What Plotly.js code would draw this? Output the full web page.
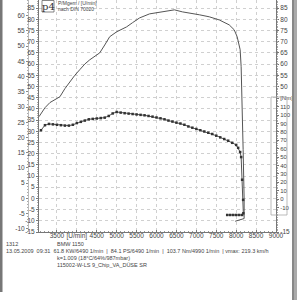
<!DOCTYPE html>
<html><head><meta charset="utf-8">
<script src="https://cdn.plot.ly/plotly-3.0.1.min.js"></script>
<style>html,body{margin:0;padding:0;background:#fff}#c{width:300px;height:300px}</style>
</head><body><div id="c"></div>
<script>
// Power curve (PS) vs engine speed (U/min)
var powerRpm = [3050, 3200, 3325, 3450, 3575, 3700, 3825, 3950, 4075, 4200, 4325, 4450, 4575, 4700, 4825, 5000, 5250, 5400, 5575, 5825, 6150, 6450, 6650, 6825, 7075, 7325, 7575, 7825, 7950, 8025, 8100, 8125, 8150, 8175, 8200, 8200, 7975];
var powerPs  = [36.5, 40.5, 42.8, 44.1, 45.4, 49.0, 52.1, 55.0, 57.5, 60.0, 61.9, 63.3, 65.0, 68.5, 72.2, 74.4, 76.6, 78.5, 80.6, 82.4, 83.3, 84.2, 83.3, 82.9, 82.0, 81.1, 79.7, 77.5, 75.3, 72.2, 66.4, 58.8, 44.1, 21.8, -0.4, -9.0, -10.2];
// Torque curve (Nm)
var torqueRpm = [3100,3200,3300,3400,3500,3600,3700,3800,3900,4000,4100,4200,4300,4400,4500,4600,4700,4800,4900,5000,5100,5200,5300,5400,5500,5600,5700,5800,5900,6000,6100,6200,6300,6400,6500,6600,6700,6800,6900,7000,7100,7200,7300,7400,7500,7600,7700,7800,7900,8000,8050,8100,8125,8150,8175,8180];
var torqueNm  = [82,88,89.5,89,88.5,88,87.5,87.5,88.5,90.5,92,93.5,95,95.5,96,96.5,97,99,102,103.7,103,102.3,101.8,101.3,100.8,100.3,99.8,99,98.2,97.2,96.2,95,93.5,92.3,91,90,88.5,86.5,85,83.5,82,80.5,79,77.5,75.5,73.5,71.5,69.5,67,64.5,61,56,50,23,-1,-17];
// Coast-down segment (Nm)
var coastRpm = [7775, 7850, 7925, 8000, 8075, 8150];
var coastNm  = [-19, -19, -19, -19, -19, -19];

var xTicks = [3500,4000,4500,5000,5500,6000,6500,7000,7500,8000,8500,9000];
var xTickText = ['3500','[U/min]','4500','5000','5500','6000','6500','7000','7500','8000','8500','9000'];
var psTicks = [-15,-10,-5,0,5,10,15,20,25,30,35,40,45,50,55,60,65,70,75,80,85];
var kwTicks = [-10,-5,0,5,10,15,20,25,30,35,40,45,50,55,60];
var psRightTicks = [-15,50,55,60,65,70,75,80,85];
var nmTicks = [-10,0,10,20,30,40,50,60,70,80,90,100,110,120];
var nmTickText = ['-10','0','10','20','30','40','50','60','70','80','90','100','110','[Nm]'];

var infoLines = [
  '1312',
  'BMW 1150',
  '13.05.2009  09:31  61.8 KW/6490 1/min  |  84.1 PS/6490 1/min  |  103.7 Nm/4990 1/min  | vmax: 219.3 km/h',
  'k=1.009 (18°C/64%/987mbar)',
  '115002-W-LS 9_Chip_VA_DÜSE SR'
];

var PS_RANGE = [-15, 88.6];
var KW_PER_PS = 1/1.36;
var NM_RANGE = [-39.3, 237.2];
var FONT = 'Liberation Sans, Arial, sans-serif';
var tc = '#444';

function labels(arr){return arr.map(function(v){return String(v);});}
// pixel -> paper helpers (plot area: x 28..276, y 0..232)
function px(x){return (x-28)/248;}
function py(y){return (232-y)/232;}

var powerKw = powerPs.map(function(v){return v*KW_PER_PS;});

var traces = [
  // same power curve expressed in kW / on right PS scale (invisible; makes those axes draw)
  {x: powerRpm, y: powerKw, type:'scatter', mode:'lines', yaxis:'y2', opacity:0, line:{width:1}, hoverinfo:'skip'},
  {x: powerRpm, y: powerPs, type:'scatter', mode:'lines', yaxis:'y3', opacity:0, line:{width:1}, hoverinfo:'skip'},
  {x: powerRpm, y: powerPs, type:'scatter', mode:'lines', yaxis:'y',
   line:{color:'#555', width:1}, hoverinfo:'skip'},
  {x: torqueRpm, y: torqueNm, type:'scatter', mode:'lines+markers', yaxis:'y4',
   line:{color:'#555', width:1}, marker:{symbol:'square', size:2.5, color:'#333'}, hoverinfo:'skip'},
  {x: coastRpm, y: coastNm, type:'scatter', mode:'lines+markers', yaxis:'y4',
   line:{color:'#555', width:1}, marker:{symbol:'square', size:2.5, color:'#333'}, hoverinfo:'skip'}
];

var gridCol = '#d0d0d0';
var layout = {
  width:300, height:300,
  margin:{l:28, r:24, t:0, b:68},
  paper_bgcolor:'#fff', plot_bgcolor:'#fff',
  showlegend:false,
  font:{family:FONT, size:6.5, color:tc},
  xaxis:{domain:[px(39),1], range:[3050,9000], tickmode:'array', tickvals:xTicks, ticktext:xTickText,
    showline:true, linecolor:'#777', linewidth:1, ticks:'inside', ticklen:2, tickcolor:'#777',
    ticklabelstandoff:-3,
    minor:{ticks:'inside', ticklen:1.5, dtick:100, tick0:3000, tickcolor:'#999', showgrid:false},
    showgrid:true, gridcolor:gridCol, griddash:'dot', gridwidth:1, zeroline:false,
    tickfont:{size:6.5, color:tc}},
  yaxis:{range:PS_RANGE, tickmode:'array', tickvals:psTicks, ticktext:labels(psTicks),
    showline:true, linecolor:'#777', linewidth:1,
    ticks:'outside', ticklen:2, tickcolor:'#777',
    minor:{ticks:'outside', ticklen:1, dtick:1, tick0:0, tickcolor:'#aaa', showgrid:false},
    showgrid:true, gridcolor:gridCol, griddash:'dot', gridwidth:1, zeroline:false,
    tickfont:{size:6.5, color:tc}},
  yaxis2:{overlaying:'y', anchor:'free', position:0, side:'left',
    range:[PS_RANGE[0]*KW_PER_PS, PS_RANGE[1]*KW_PER_PS], tickmode:'array', tickvals:kwTicks, ticktext:labels(kwTicks),
    showline:true, linecolor:'#bbb', linewidth:1, ticks:'outside', ticklen:2, tickcolor:'#888',
    minor:{ticks:'outside', ticklen:1, dtick:1, tick0:0, tickcolor:'#aaa', showgrid:false},
    showgrid:false, zeroline:false, tickfont:{size:6.5, color:tc}},
  yaxis3:{overlaying:'y', anchor:'x', side:'right', range:PS_RANGE, tickmode:'array', tickvals:psRightTicks, ticktext:labels(psRightTicks),
    showline:true, linecolor:'#777', linewidth:1, ticks:'outside', ticklen:2, tickcolor:'#777',
    showgrid:false, zeroline:false, tickfont:{size:6.5, color:tc}},
  yaxis4:{overlaying:'y', anchor:'x', side:'right', range:NM_RANGE, tickmode:'array', tickvals:nmTicks, ticktext:nmTickText,
    showline:false, ticks:'outside', ticklen:2, tickcolor:'#777',
    minor:{ticks:'outside', ticklen:1, dtick:2, tick0:0, tickcolor:'#aaa', showgrid:false},
    showgrid:false, zeroline:false, tickfont:{size:6, color:tc}},
  shapes:[
    {type:'rect', xref:'paper', yref:'paper', x0:px(0), x1:px(2.5), y0:py(0), y1:py(292), fillcolor:'#777', line:{width:0}},
    {type:'rect', xref:'paper', yref:'paper', x0:px(292), x1:px(297), y0:py(0), y1:py(300), fillcolor:'#aaa', line:{width:0}},
    {type:'line', xref:'paper', yref:'paper', x0:px(293), x1:px(293), y0:py(0), y1:py(300), line:{color:'#666', width:1}},
    {type:'rect', xref:'paper', yref:'paper', x0:px(271), x1:px(287), y0:py(97), y1:py(215), line:{color:'#aaa', width:0.8}},
    {type:'rect', xref:'paper', yref:'paper', x0:px(42), x1:px(54), y0:py(0.5), y1:py(12), fillcolor:'#fff', line:{color:'#666', width:0.8}}
  ],
  annotations:[
    {xref:'paper', yref:'paper', x:px(48), y:py(6.5), text:'p4', showarrow:false, xanchor:'center', yanchor:'middle',
     font:{family:'DejaVu Serif, serif', size:10, color:'#333'}},
    {xref:'paper', yref:'paper', x:px(56), y:py(3.5), text:'P/Mgem / [U/min]', showarrow:false, xanchor:'left', yanchor:'middle',
     font:{size:5, color:tc}},
    {xref:'paper', yref:'paper', x:px(56), y:py(8.5), text:'nach DIN 70020', showarrow:false, xanchor:'left', yanchor:'middle',
     font:{size:5, color:tc}},
    {xref:'paper', yref:'paper', x:px(4), y:py(244), text:infoLines[0], showarrow:false, xanchor:'left', yanchor:'middle', font:{size:5.5, color:tc}},
    {xref:'paper', yref:'paper', x:px(55), y:py(244), text:infoLines[1], showarrow:false, xanchor:'left', yanchor:'middle', font:{size:5.5, color:tc}},
    {xref:'paper', yref:'paper', x:px(4), y:py(251), text:infoLines[2], showarrow:false, xanchor:'left', yanchor:'middle', font:{size:5.5, color:tc}},
    {xref:'paper', yref:'paper', x:px(55), y:py(258), text:infoLines[3], showarrow:false, xanchor:'left', yanchor:'middle', font:{size:5.5, color:tc}},
    {xref:'paper', yref:'paper', x:px(55), y:py(264.5), text:infoLines[4], showarrow:false, xanchor:'left', yanchor:'middle', font:{size:5.5, color:tc}}
  ]
};
Plotly.newPlot('c', traces, layout, {staticPlot:true, displayModeBar:false});
</script></body></html>
